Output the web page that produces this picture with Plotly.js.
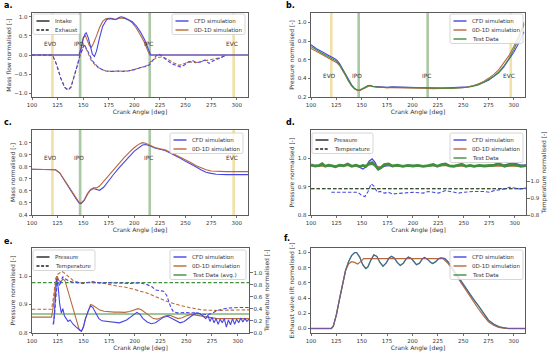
<!DOCTYPE html>
<html><head><meta charset="utf-8">
<script src="https://cdn.plot.ly/plotly-3.0.1.min.js"></script>
<style>html,body{margin:0;padding:0;background:#fff}#chart{width:550px;height:354px}</style>
</head><body><div id="chart"></div><script>
// ---------- DATA ----------
const xTicks = [100,125,150,175,200,225,250,275,300];
const events = ['EVO','IPO','IPC','EVC'];
const eventAngles = [120,147,215,297];

// a. mass flow
const aInCfdX = [100,146,148,150,152,153,155,157,159,161,163,166,169,173,176,179,182,185,187,190,194,198,202,206,210,213,215,216,311];
const aInCfdY = [0,0,0.18,0.42,0.56,0.58,0.45,0.2,0.02,-0.04,0.1,0.45,0.75,0.93,0.95,0.94,0.93,0.98,1.0,0.98,0.93,0.87,0.76,0.6,0.4,0.2,0.05,0,0];
const aIn0dX  = [100,146,148,150,152,154,156,158,160,163,166,169,172,175,178,181,184,187,190,194,198,202,206,210,213,215,311];
const aIn0dY  = [0,0,0.2,0.45,0.52,0.4,0.25,0.2,0.3,0.5,0.72,0.88,0.95,0.96,0.96,0.93,0.95,0.97,0.96,0.92,0.84,0.7,0.52,0.32,0.12,0,0];
const aExCfdX = [100,120,124,128,132,135,138,141,144,147,149,151,153,156,159,163,167,172,177,182,187,192,197,202,207,212,215,218,221,224,227,231,236,241,245,249,253,257,261,265,269,273,277,282,287,290];
const aExCfdY = [0,0,-0.25,-0.6,-0.85,-0.92,-0.85,-0.6,-0.3,0,0.15,0.28,0.18,0,-0.15,-0.28,-0.36,-0.42,-0.43,-0.42,-0.42,-0.43,-0.4,-0.37,-0.32,-0.3,-0.25,-0.15,-0.03,0.02,-0.03,-0.12,-0.22,-0.28,-0.31,-0.26,-0.18,-0.15,-0.2,-0.18,-0.13,-0.22,-0.15,-0.1,-0.05,0];
const aEx0dX  = [100,120,124,128,132,135,138,141,144,147,149,151,154,158,163,168,173,180,187,194,200,206,212,217,222,227,232,238,244,249,254,260,266,272,278,284,290];
const aEx0dY  = [0,0,-0.25,-0.6,-0.85,-0.9,-0.84,-0.6,-0.3,0,0.15,0.26,0.1,-0.15,-0.3,-0.38,-0.42,-0.43,-0.42,-0.42,-0.38,-0.33,-0.28,-0.15,-0.07,-0.05,-0.1,-0.2,-0.27,-0.22,-0.18,-0.2,-0.17,-0.15,-0.1,-0.07,0];

// b. pressure
const bX = [100,105,110,115,120,125,128,131,134,137,140,143,146,148,150,153,156,158,161,165,170,175,180,190,200,210,220,230,240,250,255,260,265,270,275,280,285,290,295,300,305,310];
const bCfd = [0.76,0.72,0.69,0.66,0.63,0.6,0.56,0.5,0.44,0.38,0.33,0.29,0.27,0.27,0.28,0.3,0.32,0.325,0.315,0.31,0.305,0.305,0.31,0.305,0.305,0.3,0.295,0.295,0.3,0.305,0.31,0.32,0.335,0.355,0.38,0.42,0.46,0.52,0.6,0.68,0.78,0.9];
const b0d  = [0.72,0.69,0.66,0.63,0.6,0.57,0.54,0.49,0.43,0.37,0.32,0.285,0.27,0.27,0.28,0.3,0.315,0.32,0.31,0.305,0.3,0.3,0.3,0.3,0.3,0.295,0.29,0.29,0.295,0.3,0.31,0.32,0.34,0.365,0.4,0.44,0.49,0.56,0.64,0.74,0.86,1.0];
const bTest= [0.74,0.705,0.675,0.645,0.615,0.585,0.55,0.5,0.44,0.375,0.325,0.29,0.275,0.275,0.285,0.305,0.32,0.32,0.31,0.305,0.305,0.3,0.305,0.3,0.3,0.3,0.295,0.295,0.295,0.3,0.305,0.315,0.33,0.355,0.385,0.42,0.465,0.53,0.61,0.71,0.83,0.98];

// c. mass
const cX = [100,110,120,123,127,131,135,139,143,146,148,151,154,157,160,163,166,170,175,180,185,190,195,200,205,208,211,215,220,225,230,235,240,245,250,255,260,265,270,275,280,290,300,311];
const cCfd = [0.78,0.78,0.78,0.775,0.75,0.7,0.645,0.59,0.535,0.5,0.495,0.52,0.57,0.605,0.62,0.615,0.605,0.63,0.69,0.74,0.79,0.84,0.885,0.93,0.965,0.98,0.985,0.975,0.955,0.945,0.935,0.915,0.895,0.87,0.845,0.825,0.8,0.775,0.755,0.745,0.738,0.735,0.735,0.735];
const c0d  = [0.78,0.78,0.78,0.775,0.75,0.7,0.645,0.59,0.54,0.505,0.5,0.525,0.575,0.61,0.625,0.625,0.64,0.68,0.73,0.78,0.83,0.875,0.92,0.96,0.99,1.0,0.995,0.98,0.96,0.95,0.94,0.92,0.9,0.875,0.855,0.835,0.81,0.79,0.775,0.765,0.762,0.76,0.76,0.76];

// d. pressure (left) & temperature (right)
const dX = [100,104,108,111,114,117,120,124,128,132,136,140,144,148,151,154,157,160,163,166,169,172,176,180,185,190,195,200,205,210,215,220,224,228,232,236,240,244,248,252,256,260,265,270,275,280,284,287,290,294,298,302,306,311];
const dTestP = [0.977,0.973,0.975,0.981,0.972,0.976,0.974,0.97,0.976,0.974,0.98,0.972,0.976,0.971,0.975,0.972,0.982,0.985,0.975,0.962,0.968,0.978,0.98,0.973,0.976,0.972,0.975,0.973,0.975,0.972,0.974,0.978,0.972,0.978,0.98,0.973,0.972,0.976,0.979,0.972,0.975,0.972,0.975,0.973,0.974,0.976,0.982,0.978,0.972,0.976,0.979,0.976,0.972,0.974];
const dCfdP  = [0.976,0.974,0.975,0.977,0.973,0.975,0.974,0.972,0.975,0.974,0.976,0.973,0.975,0.968,0.962,0.97,0.99,0.998,0.985,0.96,0.965,0.972,0.975,0.972,0.974,0.973,0.975,0.974,0.975,0.973,0.974,0.975,0.973,0.975,0.976,0.973,0.973,0.975,0.976,0.973,0.975,0.973,0.974,0.973,0.975,0.976,0.975,0.976,0.977,0.98,0.983,0.98,0.976,0.976];
const d0dP   = [0.973,0.973,0.974,0.975,0.973,0.974,0.973,0.972,0.974,0.973,0.975,0.973,0.974,0.972,0.973,0.973,0.977,0.979,0.976,0.97,0.971,0.974,0.975,0.973,0.974,0.973,0.974,0.973,0.974,0.973,0.973,0.975,0.973,0.974,0.975,0.973,0.973,0.974,0.975,0.973,0.974,0.973,0.974,0.973,0.973,0.974,0.975,0.974,0.973,0.974,0.975,0.974,0.973,0.973];
const dTempX = [100,311];
const d0dT   = [0.955,0.955];
const dTestT = [0.957,0.957];
const dCfdTX = [120,130,140,146,150,153,156,159,162,165,168,172,176,180,190,200,210,215,220,225,232,240,245,250,260,270,275,280,285,290,295,300,305,311];
const dCfdT  = [0.935,0.933,0.935,0.935,0.915,0.91,0.94,0.985,0.97,0.935,0.94,0.93,0.935,0.925,0.93,0.935,0.93,0.94,0.935,0.93,0.945,0.935,0.93,0.935,0.94,0.94,0.935,0.945,0.95,0.955,0.965,0.96,0.955,0.96];

// e. pressure (left) & temperature (right)
const eTestX = [100,311];
const eTestP = [0.866,0.866];
const eTestT = [0.833,0.833];
const e0dPX = [100,110,119,121,123,124.5,126,128,130,132,134,137,140,143,146,148,150,152,155,157,159,162,166,170,175,180,185,190,195,200,203,206,210,214,218,222,226,230,234,238,242,246,250,255,260,265,270,275,280,290,300,311];
const e0dP  = [0.855,0.855,0.855,0.9,0.975,1.0,0.985,0.98,0.99,0.985,0.96,0.92,0.88,0.84,0.81,0.805,0.82,0.85,0.885,0.9,0.897,0.89,0.88,0.876,0.874,0.873,0.873,0.872,0.875,0.882,0.885,0.882,0.872,0.86,0.85,0.848,0.855,0.86,0.862,0.855,0.85,0.853,0.86,0.865,0.862,0.858,0.855,0.852,0.85,0.85,0.85,0.85];
const eCfdPX = [121,122.5,124,125.5,127,128.5,130,131.5,133,135,137,140,143,146,148,150,152,155,157,159,162,165,168,172,178,185,192,198,202,205,208,212,216,220,224,228,232,236,240,244,248,252,256,260,263,266,269,271,273,275,277,279,281,283,285,287,289,291,293,295,297,299,301,303,305,307,309,311];
const eCfdP  = [0.83,0.9,0.99,0.96,0.9,0.87,0.885,0.86,0.85,0.84,0.845,0.83,0.82,0.81,0.805,0.82,0.85,0.88,0.895,0.89,0.87,0.85,0.842,0.84,0.838,0.835,0.845,0.86,0.872,0.865,0.85,0.838,0.832,0.835,0.845,0.855,0.858,0.85,0.84,0.835,0.84,0.852,0.862,0.87,0.868,0.86,0.85,0.862,0.84,0.855,0.835,0.85,0.83,0.848,0.835,0.85,0.82,0.845,0.828,0.85,0.83,0.848,0.835,0.852,0.838,0.85,0.84,0.848];
const e0dTX = [100,110,119,121,123,125,127,129,131,133,136,140,145,150,155,160,165,170,175,180,185,190,195,200,205,210,216,220,225,230,235,240,245,250,255,260,265,270,275,280,290,300,311];
const e0dT  = [0.39,0.39,0.39,0.6,0.9,0.97,1.0,1.02,1.0,0.97,0.92,0.87,0.84,0.83,0.835,0.835,0.83,0.82,0.8,0.79,0.77,0.76,0.745,0.72,0.69,0.67,0.63,0.6,0.56,0.53,0.5,0.47,0.45,0.43,0.41,0.39,0.38,0.375,0.37,0.37,0.375,0.38,0.38];
const eCfdTX = [120.5,122,123,124,125,126,127,128,130,132,135,140,150,158,166,180,195,205,212,217,220,224,228,231,233,235,237.5,241,250,260,265,270,275,280,290,296,302,311];
const eCfdT  = [0.14,0.3,0.55,0.8,0.9,0.82,0.78,0.86,0.93,0.9,0.87,0.84,0.82,0.85,0.83,0.83,0.82,0.83,0.8,0.76,0.71,0.7,0.69,0.62,0.5,0.42,0.35,0.33,0.335,0.33,0.31,0.3,0.32,0.37,0.41,0.42,0.42,0.42];

// f. exhaust valve lift
const fCfdX = [100,120,122,125,128,131,134,137,140,143,145,148,151,154,156,159,162,165,168,171,174,177,179.5,182,185,188,191,194,196,199,202,204,207,210,212,215,218,220,223,226,228,232,235,240,245,250,255,260,265,270,275,280,285,290,295,311];
const fCfd  = [0,0,0.03,0.18,0.38,0.58,0.76,0.88,0.96,1.0,1.0,0.94,0.84,0.79,0.81,0.9,0.97,0.95,0.87,0.82,0.86,0.93,0.95,0.93,0.87,0.83,0.86,0.92,0.94,0.92,0.87,0.84,0.86,0.92,0.935,0.91,0.87,0.855,0.88,0.92,0.93,0.92,0.88,0.78,0.68,0.575,0.48,0.39,0.3,0.2,0.11,0.06,0.026,0.01,0,0];
const f0dX  = [100,120,122,125,128,131,134,137,140,143,146,149,152,160,180,200,220,230,235,240,245,250,255,260,265,270,275,280,285,290,295,311];
const f0d   = [0,0,0.03,0.18,0.38,0.58,0.76,0.85,0.88,0.87,0.85,0.88,0.92,0.92,0.92,0.92,0.92,0.92,0.86,0.76,0.65,0.545,0.45,0.355,0.26,0.17,0.09,0.045,0.015,0.005,0,0];

// ---------- STYLE / LAYOUT ----------
const W = 550, H = 354;
const px = x => x / W, py = y => 1 - y / H;
const BLUE = '#4646e6', BROWN = '#b8683c', GREEN = '#3f8f3f', BLACK = '#222222';
const DASH = '3.5px,2px';
const FONT = 'DejaVu Sans, sans-serif';
const TXT = '#333333';

function L(x, y, xa, ya, color, w, dash, op) {
  return {type: 'scatter', mode: 'lines', x: x, y: y, xaxis: xa, yaxis: ya,
    line: {color: color, width: w || 1.1, dash: dash || 'solid'}, opacity: op || 1,
    hoverinfo: 'skip', showlegend: false};
}

const traces = [
  // a
  L(aIn0dX, aIn0dY, 'x', 'y', BROWN), L(aInCfdX, aInCfdY, 'x', 'y', BLUE),
  L(aEx0dX, aEx0dY, 'x', 'y', BROWN, 1.1, DASH), L(aExCfdX, aExCfdY, 'x', 'y', BLUE, 1.1, DASH),
  // b
  L(bX, bCfd, 'x2', 'y2', BLUE), L(bX, b0d, 'x2', 'y2', BROWN), L(bX, bTest, 'x2', 'y2', GREEN),
  // c
  L(cX, cCfd, 'x3', 'y3', BLUE), L(cX, c0d, 'x3', 'y3', BROWN),
  // d
  L(dX, dCfdP, 'x4', 'y4', BLUE, 1.3), L(dX, d0dP, 'x4', 'y4', BROWN, 1.3), L(dX, dTestP, 'x4', 'y4', GREEN, 2.8),
  L(dTempX, d0dT, 'x4', 'y7', BROWN, 1.1, DASH), L(dTempX, dTestT, 'x4', 'y7', '#335533', 1.1, DASH),
  L(dCfdTX, dCfdT, 'x4', 'y7', BLUE, 1.1, DASH),
  // e
  L(eTestX, eTestP, 'x5', 'y5', GREEN), L(e0dPX, e0dP, 'x5', 'y5', BROWN), L(eCfdPX, eCfdP, 'x5', 'y5', BLUE),
  L(eTestX, eTestT, 'x5', 'y8', GREEN, 1.1, DASH), L(e0dTX, e0dT, 'x5', 'y8', BROWN, 1.1, DASH),
  L(eCfdTX, eCfdT, 'x5', 'y8', BLUE, 1.1, DASH),
  // f
  L(fCfdX, fCfd, 'x6', 'y6', GREEN, 1.3), L(f0dX, f0d, 'x6', 'y6', BROWN, 1.2), L(fCfdX, fCfd, 'x6', 'y6', BLUE, 1.1, 'solid', 0.55)
];

const colX = [[32/W, 248/W], [311/W, 525/W]];
const rowY = [[1-97/H, 1-13/H], [1-215/H, 1-130/H], [1-332.7/H, 1-248/H]];

function baseAx() {
  return {color: TXT, showline: true, mirror: true, linecolor: '#333', linewidth: 0.8, ticks: 'outside', ticklen: 2.5,
    tickwidth: 0.7, tickcolor: '#333', showgrid: false, zeroline: false, fixedrange: true,
    tickfont: {size: 5.5, color: TXT, family: FONT}};
}
function xAx(dom, anchor) {
  return Object.assign(baseAx(), {domain: dom, anchor: anchor, range: [100, 311], tickvals: xTicks,
    title: {text: 'Crank Angle [deg]', font: {size: 6, color: TXT, family: FONT}, standoff: 1}});
}
function yAx(dom, anchor, range, tickvals, title) {
  return Object.assign(baseAx(), {domain: dom, anchor: anchor, range: range, tickvals: tickvals, tickformat: '.1f',
    title: {text: title, font: {size: 6, color: TXT, family: FONT}, standoff: 2}});
}

const layout = {
  width: W, height: H, margin: {l: 0, r: 0, t: 0, b: 0}, paper_bgcolor: '#fff', plot_bgcolor: '#fff',
  showlegend: false, hovermode: false, font: {family: FONT, color: TXT},
  xaxis: xAx(colX[0], 'y'), xaxis2: xAx(colX[1], 'y2'), xaxis3: xAx(colX[0], 'y3'),
  xaxis4: xAx([311/W, 526/W], 'y4'), xaxis5: xAx([32/W, 249/W], 'y5'), xaxis6: xAx(colX[1], 'y6'),
  yaxis: yAx(rowY[0], 'x', [-1.1, 1.1], [-1, -0.5, 0, 0.5, 1], 'Mass flow normalised [-]'),
  yaxis2: yAx(rowY[0], 'x2', [0.2, 1.1], [0.2, 0.4, 0.6, 0.8, 1.0], 'Pressure normalised [-]'),
  yaxis3: yAx(rowY[1], 'x3', [0.4, 1.105], [0.4, 0.5, 0.6, 0.7, 0.8, 0.9, 1.0], 'Mass normalised [-]'),
  yaxis4: yAx(rowY[1], 'x4', [0.8, 1.1], [0.8, 0.9, 1.0], 'Pressure normalised [-]'),
  yaxis5: yAx(rowY[2], 'x5', [0.8, 1.1], [0.8, 0.9, 1.0], 'Pressure normalised [-]'),
  yaxis6: yAx(rowY[2], 'x6', [-0.055, 1.06], [0, 0.2, 0.4, 0.6, 0.8, 1.0], 'Exhaust valve lift normalised [-]'),
  shapes: [], annotations: []
};
layout.yaxis7 = Object.assign(yAx(rowY[1], 'x4', [0.8, 1.305], [0.8, 0.9, 1.0], 'Temperature normalised [-]'),
  {overlaying: 'y4', side: 'right', showline: false, mirror: false});
layout.yaxis8 = Object.assign(yAx(rowY[2], 'x5', [0, 1.41], [0, 0.2, 0.4, 0.6, 0.8, 1.0], 'Temperature normalised [-]'),
  {overlaying: 'y5', side: 'right', showline: false, mirror: false});

// event bands and labels for a, b, c
const bandCols = ['rgba(232,205,110,0.6)', 'rgba(115,165,105,0.6)', 'rgba(115,165,105,0.6)', 'rgba(232,205,110,0.6)'];
const panelsEv = [['x', 'y', 0.3], ['x2', 'y2', 0.43], ['x3', 'y3', 0.87]];
panelsEv.forEach(p => {
  eventAngles.forEach((a, i) => {
    layout.shapes.push({type: 'rect', layer: 'below', xref: p[0], yref: p[1] + ' domain', x0: a - 1.3, x1: a + 1.3, y0: 0, y1: 1,
      fillcolor: bandCols[i], line: {width: 0}});
    layout.annotations.push({xref: p[0], yref: p[1], x: a - 1.5, y: p[2], text: events[i], showarrow: false,
      font: {size: 5.8, color: TXT, family: FONT}, xanchor: 'center', yanchor: 'middle'});
  });
});

// panel letters
[['a.', 2, 5], ['b.', 284, 5], ['c.', 2, 122], ['d.', 284, 122], ['e.', 2, 241], ['f.', 282, 238]].forEach(t => {
  layout.annotations.push({xref: 'paper', yref: 'paper', x: px(t[1]), y: py(t[2]), text: '<b>' + t[0] + '</b>',
    showarrow: false, xanchor: 'left', yanchor: 'middle', font: {size: 8, color: '#000', family: FONT}});
});

// legends (drawn as boxes)
function addLegend(x0, y0, x1, items) {
  const n = items.length, y1 = y0 + 7 + 9 * (n - 1) + 4.5, r = 1.8;
  const P = (x, y) => px(x) + ',' + py(y);
  const path = 'M' + P(x0 + r, y0) + ' L' + P(x1 - r, y0) + ' Q' + P(x1, y0) + ' ' + P(x1, y0 + r) +
    ' L' + P(x1, y1 - r) + ' Q' + P(x1, y1) + ' ' + P(x1 - r, y1) + ' L' + P(x0 + r, y1) +
    ' Q' + P(x0, y1) + ' ' + P(x0, y1 - r) + ' L' + P(x0, y0 + r) + ' Q' + P(x0, y0) + ' ' + P(x0 + r, y0) + ' Z';
  layout.shapes.push({type: 'path', xref: 'paper', yref: 'paper', path: path, fillcolor: 'rgba(255,255,255,0.85)',
    line: {color: '#cccccc', width: 0.8}});
  items.forEach((it, i) => {
    const yy = y0 + 7 + 9 * i;
    layout.shapes.push({type: 'line', xref: 'paper', yref: 'paper', x0: px(x0 + 3.5), x1: px(x0 + 16.5), y0: py(yy), y1: py(yy),
      line: {color: it[1], width: 1.4, dash: it[2] || 'solid'}});
    layout.annotations.push({xref: 'paper', yref: 'paper', x: px(x0 + 19.5), y: py(yy), text: it[0], showarrow: false,
      xanchor: 'left', yanchor: 'middle', font: {size: 5.5, color: TXT, family: FONT}});
  });
}
const simItems = [['CFD simulation', BLUE], ['0D-1D simulation', BROWN]];
const simTest = simItems.concat([['Test Data', GREEN]]);
const ptItems = [['Pressure', BLACK], ['Temperature', BLACK, '3px,1.6px']];
addLegend(33, 14, 80, [['Intake', BLACK], ['Exhaust', BLACK, '3px,1.6px']]);
addLegend(172, 14, 245, simItems);
addLegend(450, 14, 523, simTest);
addLegend(170, 133, 243, simItems);
addLegend(312, 133, 373, ptItems);
addLegend(450, 133, 523, simTest);
addLegend(33, 250, 95, ptItems);
addLegend(170, 250, 246, simItems.concat([['Test Data (avg.)', GREEN]]));
addLegend(450, 250, 523, simTest);

Plotly.newPlot('chart', traces, layout, {staticPlot: true, displayModeBar: false});
</script></body></html>
